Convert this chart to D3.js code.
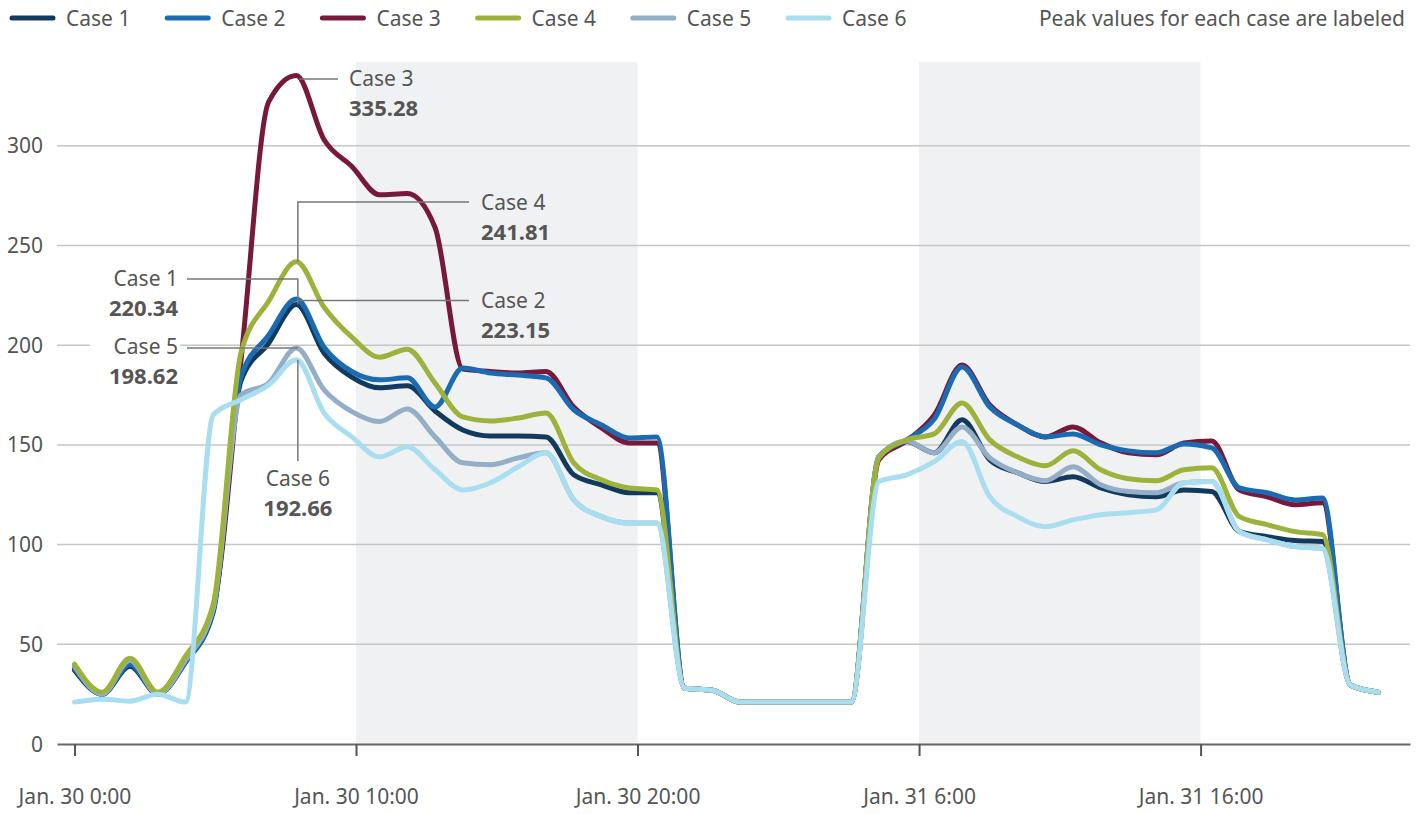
<!DOCTYPE html>
<html>
<head>
<meta charset="utf-8">
<script src="https://cdn.jsdelivr.net/npm/d3@7"></script>
<style>
  html, body { margin: 0; padding: 0; background: #fff; }
  svg { display: block; font-family: "Noto Sans", "Open Sans", sans-serif; }
</style>
</head>
<body>
<svg id="chart" width="1422" height="814"></svg>
<script>
// ---------- DATA ----------
const seriesNames = ["Case 1", "Case 2", "Case 3", "Case 4", "Case 5", "Case 6"];
// 48 samples (sample index 0..47)
const case1 = [37,25,39,25,41,66,182,201,220.34,196,184,178.6,179.6,167,157.5,154.5,154.5,154,135,130,126,126,28,27,21,21,21,21,21,144,151.7,146,162.6,142.5,136,131.6,134,128.4,125,124,127.4,126.6,106.5,104,102,101.5,29.6,26];
const case2 = [38,25,40,25,41,67,184,205,223.15,199,186.8,182.6,183.6,169,188.6,186,185,183.6,167.6,160,153.5,154,28,27,21,21,21,21,21,144,152.5,163,189,169,160,154,155.5,150,147,146,150.5,148.5,128.4,126,122.4,123.4,29.6,26];
const case3 = [39,25,42,25,42,68,192,322,335.28,303,289.6,275.4,276,259,188,186.8,186,186.8,169,158.5,151,151,28,27,21,21,21,21,21,142.5,152,165,190,170,160,154,159,151,146,145,151,152,127.4,124,120,121,29.6,26];
const case4 = [40,26,43,26,44,70,196,222,241.81,219,204,194,198,181,164,162,163.5,166,141,132.5,128.4,127.4,28,27,21,21,21,21,21,143.5,152.5,155.5,171,152.5,144,139.5,147,137.5,133,132,137.5,138.5,114,110,106.5,105,29.6,26];
const case5 = [39,25,42,25,42,68,175,181,198.62,177.6,166.7,161.7,168,154,141,140,143.5,146,122.4,114,110.8,110.8,28,27,21,21,21,21,21,144,152,146,159,143.5,136,132,139,130,126.6,126,131,131.6,106.5,102.4,99,98,29.6,26];
const case6 = [21,22.5,21.5,25,21,165,172.6,180,192.66,166,154,144,149,137.5,127.4,131,139,146,122.4,114,110.8,110.8,28,27,21,21,21,21,21,131.6,135,141.6,151.7,124,114,109,112.4,115,116,117.4,131,131.6,106.5,102.4,99,98,29.6,26];

// x tick positions (in sample-index units) and labels
const xTickPos = [0, 10.15, 20.3, 30.45, 40.6];
const xTickLabels = ["Jan. 30 0:00", "Jan. 30 10:00", "Jan. 30 20:00", "Jan. 31 6:00", "Jan. 31 16:00"];
const yTicks = [0, 50, 100, 150, 200, 250, 300];
// shaded periods, as pairs of tick indices
const shadedPeriods = [[1, 2], [3, 4]];
const noteText = "Peak values for each case are labeled";

// ---------- STYLE ----------
const colors = ["#113a5e", "#1b6bb3", "#76193a", "#9cb23b", "#93aec6", "#a9ddf0"];
const drawOrder = [2, 0, 1, 4, 3, 5];
const textColor = "#555";
const FS = 21;

const svg = d3.select("#chart");
const series = [case1, case2, case3, case4, case5, case6];

const x = d3.scaleLinear().domain([-0.63, 48.15]).range([57, 1410]);
const y = d3.scaleLinear().domain([0, 342]).range([744, 62]);

// shaded bands
svg.append("g").selectAll("rect").data(shadedPeriods).join("rect")
  .attr("x", d => x(xTickPos[d[0]]))
  .attr("width", d => x(xTickPos[d[1]]) - x(xTickPos[d[0]]))
  .attr("y", y.range()[1])
  .attr("height", y.range()[0] - y.range()[1])
  .attr("fill", "#f0f1f3");

// gridlines
svg.append("g").selectAll("line").data(yTicks.filter(v => v > 0)).join("line")
  .attr("x1", x.range()[0]).attr("x2", x.range()[1])
  .attr("y1", d => y(d)).attr("y2", d => y(d))
  .attr("stroke", "#c6c6c6").attr("stroke-width", 1.5);

// y labels
svg.append("g").selectAll("text").data(yTicks).join("text")
  .attr("x", 43).attr("y", d => y(d) + 7.5)
  .attr("text-anchor", "end")
  .attr("font-size", FS).attr("fill", textColor)
  .text(d => d);

// x axis
const xAxis = d3.axisBottom(x).tickValues(xTickPos).tickSize(12).tickSizeOuter(0)
  .tickFormat((d, i) => xTickLabels[i]);
const gx = svg.append("g").attr("transform", `translate(0,${y(0)})`).call(xAxis);
gx.select(".domain").attr("stroke", "#666").attr("stroke-width", 2);
gx.selectAll(".tick line").attr("stroke", "#555").attr("stroke-width", 2);
gx.selectAll(".tick text").attr("font-size", FS).attr("fill", textColor)
  .attr("font-family", "Noto Sans, Open Sans, sans-serif").attr("y", 60).attr("dy", 0);

// lines
const line = d3.line().x((d, i) => x(i)).y(d => y(d)).curve(d3.curveMonotoneX);
svg.append("g").selectAll("path").data(drawOrder).join("path")
  .attr("d", i => line(series[i]))
  .attr("fill", "none")
  .attr("stroke", i => colors[i])
  .attr("stroke-width", 5)
  .attr("stroke-linejoin", "round")
  .attr("stroke-linecap", "round");

// annotations
const peaks = series.map(s => { const i = d3.maxIndex(s); return { i, v: s[i], px: x(i), py: y(s[i]) }; });
const fmt = d3.format(".2f");
const ann = svg.append("g");
const leader = (pts) => ann.append("polyline").attr("points", pts.map(p => p.join(",")).join(" "))
  .attr("fill", "none").attr("stroke", "#777").attr("stroke-width", 1.5);
const label = (k, tx, ty, anchor, bg) => {
  const g = ann.append("g");
  if (bg) {
    const w = 86;
    const rx = anchor === "end" ? tx - w : tx;
    g.append("rect").attr("x", rx - 2).attr("y", ty - 18).attr("width", w + 4).attr("height", 48).attr("fill", "#fff");
  }
  g.append("text").attr("x", tx).attr("y", ty - 1.5).attr("text-anchor", anchor).attr("fill", textColor)
    .attr("font-size", FS).text(seriesNames[k]);
  g.append("text").attr("x", tx).attr("y", ty - 1.5 + 30).attr("text-anchor", anchor).attr("fill", textColor)
    .attr("font-size", 22).attr("font-weight", "bold").text(fmt(peaks[k].v));
};
// Case 3
{ const p = peaks[2]; leader([[p.px + 3, p.py + 3.5], [338, p.py + 3.5]]); label(2, 349, 87, "start"); }
// Case 4
{ const p = peaks[3]; leader([[p.px + 1.5, p.py], [p.px + 1.5, 202], [469, 202]]); label(3, 481, 211, "start"); }
// Case 2
{ const p = peaks[1]; leader([[p.px + 1.5, p.py + 1.5], [469, p.py + 1.5]]); label(1, 481, 309, "start"); }
// Case 5
{ const p = peaks[4]; label(4, 178, 355, "end", true); leader([[p.px + 1.5, p.py], [187, p.py]]); }
// Case 1
{ const p = peaks[0]; leader([[p.px + 1.5, p.py], [p.px + 1.5, 279], [187, 279]]); label(0, 178, 287, "end"); }
// Case 6
{ const p = peaks[5]; leader([[p.px + 1.5, p.py], [p.px + 1.5, 461]]); label(5, p.px + 1.5, 487, "middle"); }

// legend
const lg = svg.append("g").selectAll("g").data(seriesNames).join("g")
  .attr("transform", (d, i) => `translate(${12 + i * 155.2},18)`);
lg.append("line").attr("x1", 0).attr("x2", 41).attr("y1", 0).attr("y2", 0)
  .attr("stroke", (d, i) => colors[i]).attr("stroke-width", 5).attr("stroke-linecap", "round");
lg.append("text").attr("x", 54).attr("y", 7.5).attr("font-size", FS).attr("fill", textColor).text(d => d);

svg.append("text").attr("x", 1405).attr("y", 25.5).attr("text-anchor", "end")
  .attr("font-size", FS).attr("fill", textColor).text(noteText);
</script>
</body>
</html>
